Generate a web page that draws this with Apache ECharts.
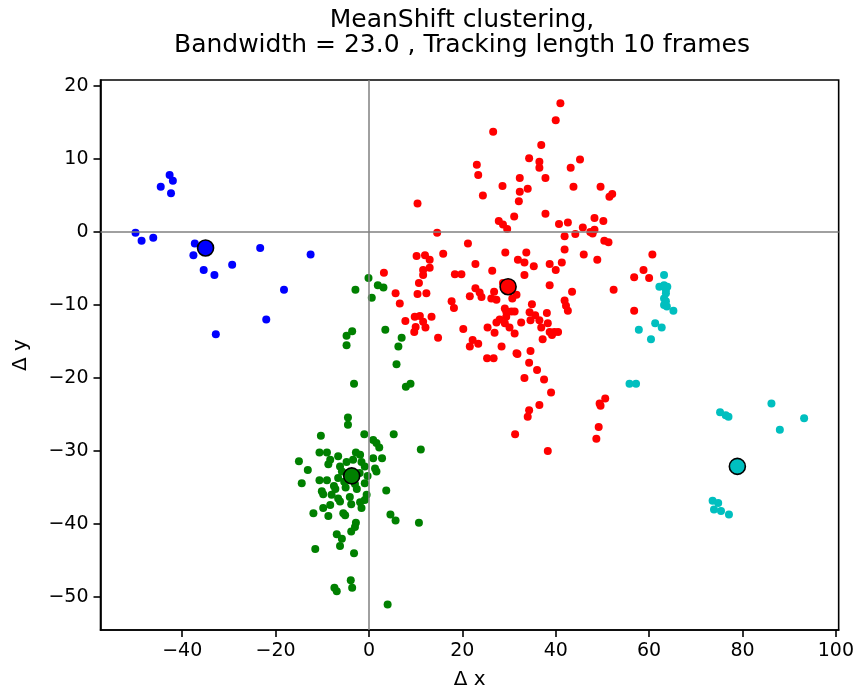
<!DOCTYPE html>
<html>
<head>
<meta charset="utf-8">
<script src="https://cdn.jsdelivr.net/npm/echarts@6/dist/echarts.min.js"></script>
<style>html,body{margin:0;padding:0;background:#fff;}#c{width:857px;height:697px;}</style>
</head>
<body>
<div id="c"></div>
<script>
const titleText = "MeanShift clustering,\nBandwidth = 23.0 , Tracking length 10 frames";
const xTicks = [-40, -20, 0, 20, 40, 60, 80, 100];
const yTicks = [-50, -40, -30, -20, -10, 0, 10, 20];

const bluePoints = [[-42.7,7.8],[-42.0,7.0],[-44.6,6.2],[-42.4,5.3],[-50.0,-0.1],[-48.7,-1.2],[-46.2,-0.8],[-37.3,-1.6],[-37.6,-3.2],[-35.4,-5.2],[-33.1,-5.9],[-29.3,-4.5],[-23.3,-2.2],[-12.5,-3.1],[-18.2,-7.9],[-22.0,-12.0],[-32.8,-14.0]];

const greenPoints = [[-0.1,-6.3],[-2.9,-7.9],[0.6,-9.0],[1.9,-7.3],[3.1,-7.6],[-3.6,-13.6],[-4.8,-14.2],[-4.8,-15.5],[3.5,-13.4],[7.0,-14.5],[6.3,-15.7],[5.9,-18.1],[-3.2,-20.8],[7.9,-21.2],[8.9,-20.8],[-4.5,-25.4],[-4.5,-26.4],[-10.3,-27.9],[-1.0,-27.7],[5.3,-27.7],[0.9,-28.5],[1.6,-28.9],[2.2,-29.5],[11.1,-29.8],[-10.6,-30.2],[-9.0,-30.2],[-6.6,-30.7],[-8.3,-31.2],[-8.7,-31.8],[-2.8,-30.2],[-1.9,-30.5],[0.9,-31.0],[2.8,-31.0],[-3.4,-31.2],[-1.6,-31.5],[-15.0,-31.4],[-13.1,-32.6],[-14.4,-34.4],[-10.6,-34.0],[-9.0,-34.0],[-6.2,-32.1],[-5.8,-32.8],[-6.6,-33.7],[-0.9,-32.1],[1.3,-32.4],[1.6,-32.8],[-0.3,-33.4],[-0.9,-34.4],[-2.6,-35.2],[3.7,-35.4],[-10.1,-35.5],[-9.8,-35.9],[-8.0,-36.0],[-6.6,-36.5],[-6.2,-36.9],[-4.1,-36.3],[-0.5,-36.0],[-0.9,-36.7],[-1.9,-37.0],[-3.8,-37.3],[-8.3,-37.4],[-9.8,-37.8],[-1.6,-37.8],[-11.9,-38.5],[-8.7,-38.9],[-5.1,-38.8],[-5.5,-38.5],[4.6,-38.7],[5.7,-39.5],[10.7,-39.8],[-2.8,-39.8],[-3.0,-40.4],[-3.8,-41.0],[-6.9,-41.4],[-5.8,-42.0],[-6.2,-43.0],[-11.5,-43.4],[-3.2,-44.0],[-3.9,-47.7],[-3.6,-48.7],[-7.4,-48.7],[-6.9,-49.2],[4.0,-51.0],[-4.5,-33.0],[-3.0,-34.5],[-5.0,-35.0],[-2.0,-33.0],[-7.5,-34.8],[-4.8,-31.5],[-7.2,-35.2],[-5.3,-34.2]];

const redPoints = [[26.6,13.7],[23.1,9.2],[23.4,7.8],[28.6,6.3],[24.4,5.0],[10.4,3.9],[32.3,7.4],[32.3,5.5],[32.1,4.2],[31.1,2.1],[27.8,1.5],[28.7,1.0],[29.6,0.4],[14.6,-0.1],[21.2,-1.6],[29.2,-2.8],[31.9,-3.8],[15.9,-3.0],[10.2,-3.3],[12.0,-3.2],[13.0,-3.8],[13.0,-4.9],[11.6,-5.2],[11.6,-5.9],[22.8,-4.4],[3.2,-5.6],[18.4,-5.8],[19.8,-5.8],[26.4,-5.3],[41.0,17.6],[40.0,15.3],[36.9,11.9],[34.3,10.1],[36.5,9.6],[36.5,8.8],[45.2,9.9],[43.2,8.8],[37.8,7.4],[34.0,5.9],[43.8,6.2],[49.6,6.2],[51.5,4.8],[52.1,5.2],[37.8,2.5],[40.7,1.1],[42.6,1.3],[48.3,1.9],[50.2,1.5],[45.8,0.6],[41.9,-0.6],[44.2,-0.3],[47.4,0.0],[48.3,0.3],[47.9,-0.2],[50.4,-1.2],[51.3,-1.4],[41.9,-2.4],[33.7,-2.8],[46.0,-3.1],[33.3,-4.2],[35.3,-4.7],[38.7,-4.4],[40.0,-5.2],[41.3,-4.2],[48.9,-3.8],[60.7,-3.1],[58.8,-5.2],[56.8,-6.2],[60.0,-6.3],[33.3,-5.9],[10.7,-7.0],[10.4,-8.5],[12.3,-8.4],[5.7,-8.4],[6.6,-9.8],[17.7,-9.5],[18.2,-10.4],[21.6,-8.8],[22.8,-7.7],[23.7,-8.3],[24.1,-8.9],[26.2,-9.1],[27.3,-9.3],[26.8,-8.2],[28.7,-7.0],[30.7,-9.1],[31.6,-8.6],[29.1,-10.5],[30.5,-10.9],[29.4,-10.9],[9.8,-11.6],[10.9,-11.5],[7.8,-12.2],[11.6,-12.3],[13.4,-11.6],[10.0,-13.0],[12.1,-13.1],[9.7,-13.7],[14.8,-14.5],[20.2,-13.3],[22.2,-14.8],[23.4,-15.3],[21.6,-15.7],[25.4,-13.1],[27.3,-12.4],[26.9,-13.8],[28.0,-12.0],[29.1,-12.5],[30.1,-13.1],[31.2,-13.9],[29.4,-11.6],[28.4,-15.7],[25.3,-17.3],[26.7,-17.3],[31.6,-16.6],[31.3,-27.7],[38.7,-7.3],[43.5,-8.2],[52.4,-7.9],[41.9,-9.4],[42.2,-10.1],[42.6,-10.8],[34.9,-9.9],[34.4,-11.0],[35.6,-11.4],[34.6,-12.1],[32.6,-12.4],[31.2,-10.9],[38.1,-11.1],[36.5,-12.1],[38.3,-12.5],[36.9,-13.1],[38.7,-13.7],[39.7,-13.7],[40.5,-13.7],[39.2,-14.1],[37.2,-14.7],[31.8,-16.7],[34.6,-16.3],[34.3,-17.9],[36.0,-18.9],[33.3,-20.0],[37.5,-20.2],[39.0,-22.0],[36.5,-23.7],[34.3,-24.4],[34.0,-25.3],[38.3,-30.0],[49.4,-23.5],[50.6,-22.8],[49.6,-23.8],[49.2,-26.7],[48.7,-28.3],[56.8,-10.8]];

const cyanPoints = [[63.2,-5.9],[62.2,-7.5],[63.2,-7.3],[63.6,-7.9],[63.9,-7.5],[63.6,-8.4],[63.2,-9.1],[63.6,-9.5],[63.2,-10.0],[63.8,-10.2],[65.2,-10.8],[61.3,-12.5],[62.7,-13.1],[57.8,-13.4],[60.4,-14.7],[55.8,-20.8],[57.2,-20.8],[86.2,-23.5],[75.2,-24.7],[77.0,-25.3],[76.4,-25.1],[93.2,-25.5],[88.0,-27.1],[73.6,-36.8],[74.8,-37.1],[73.9,-38.0],[75.4,-38.2],[77.1,-38.7]];

const clusterColors = ['#0000ff', '#008000', '#ff0000', '#00bfbf'];
const clusterCenters = [[-35.0,-2.2],[-3.7,-33.4],[29.8,-7.5],[78.9,-32.1]];

const FONT = 'DejaVu Sans';
const fmt = v => String(v).replace('-', '\u2212');

function pts(name, data, color) {
  return {
    type: 'scatter', name: name, data: data, symbolSize: 8, z: 2,
    itemStyle: { color: color, opacity: 1 },
    emphasis: { disabled: true }, animation: false
  };
}

const series = [
  pts('c0', bluePoints, clusterColors[0]),
  pts('c1', greenPoints, clusterColors[1]),
  pts('c2', redPoints, clusterColors[2]),
  pts('c3', cyanPoints, clusterColors[3]),
  {
    type: 'scatter', name: 'centers', z: 8, symbolSize: 16,
    data: clusterCenters.map((p, i) => ({ value: p, itemStyle: { color: clusterColors[i], opacity: 1 } })),
    itemStyle: { borderColor: '#000', borderWidth: 1.6, opacity: 1 },
    emphasis: { disabled: true }, animation: false,
    markLine: {
      silent: true, symbol: 'none', z: 5, animation: false,
      label: { show: false },
      lineStyle: { color: '#808080', width: 1.5, type: 'solid', opacity: 1 },
      data: [{ xAxis: 0 }, { yAxis: 0 }]
    }
  }
];

const chart = echarts.init(document.getElementById('c'), null, { renderer: 'canvas' });
chart.setOption({
  animation: false,
  backgroundColor: '#fff',
  title: {
    text: titleText, left: 457, top: 3, textAlign: 'center',
    textStyle: { fontFamily: FONT, fontSize: 25, fontWeight: 'normal', color: '#000', lineHeight: 25 }
  },
  grid: { left: 100.5, right: 18, top: 80, bottom: 67, show: true, borderColor: '#000', borderWidth: 1.6, backgroundColor: 'transparent' },
  xAxis: {
    type: 'value', min: -57.5, max: 100.6,
    name: 'Δ x', nameLocation: 'middle', nameGap: 40,
    nameTextStyle: { fontFamily: FONT, fontSize: 20, color: '#000' },
    axisLine: { show: true, onZero: false, lineStyle: { color: '#000', width: 1.6 } },
    axisTick: { show: true, length: 7, lineStyle: { color: '#000', width: 1.6 }, customValues: xTicks },
    axisLabel: { fontFamily: FONT, fontSize: 19, color: '#000', margin: 12, formatter: fmt, customValues: xTicks },
    splitLine: { show: false }
  },
  yAxis: {
    type: 'value', min: -54.5, max: 20.8,
    name: 'Δ y', nameLocation: 'middle', nameGap: 70, nameRotate: 90,
    nameTextStyle: { fontFamily: FONT, fontSize: 20, color: '#000' },
    axisLine: { show: true, onZero: false, lineStyle: { color: '#000', width: 1.6 } },
    axisTick: { show: true, length: 7, lineStyle: { color: '#000', width: 1.6 }, customValues: yTicks },
    axisLabel: { fontFamily: FONT, fontSize: 19, color: '#000', margin: 12, formatter: fmt, customValues: yTicks },
    splitLine: { show: false }
  },
  series: series
});
</script>
</body>
</html>
